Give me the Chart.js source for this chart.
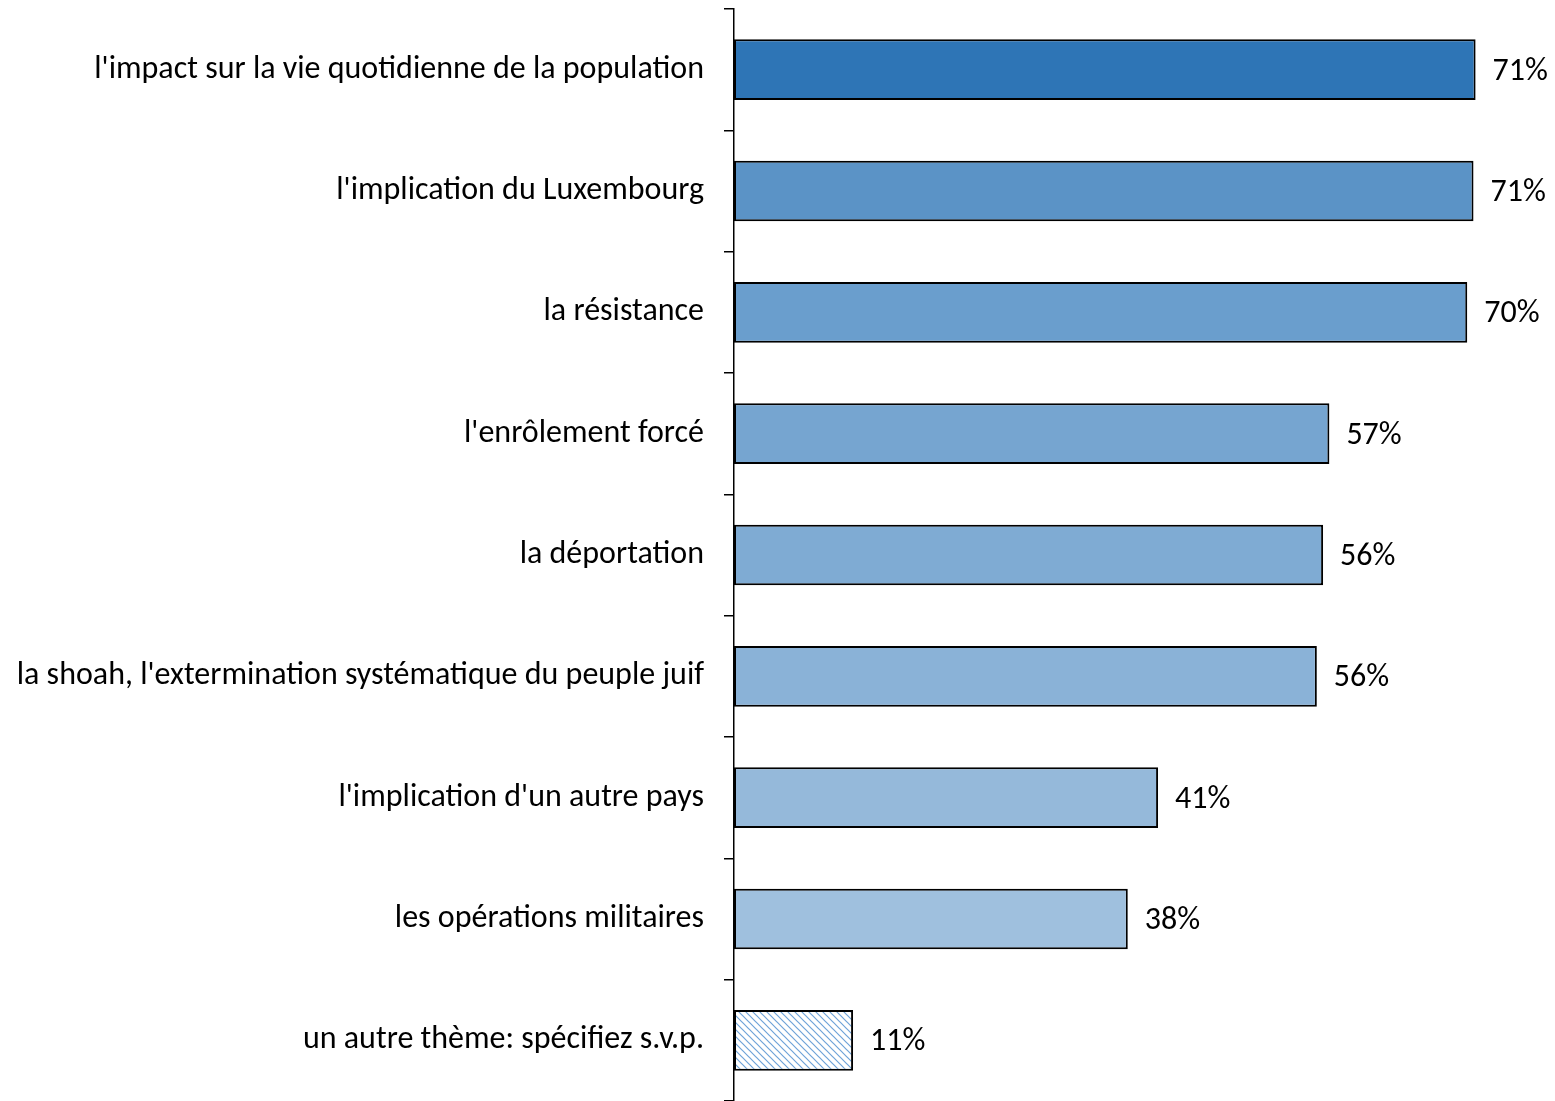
<!DOCTYPE html>
<html>
<head>
<meta charset="utf-8">
<script src="https://cdn.jsdelivr.net/npm/chart.js@4"></script>
<style>
  html, body { margin: 0; padding: 0; background: #fff; }
  #wrap { width: 1555px; height: 1101px; position: relative; }
</style>
</head>
<body>
<div id="wrap"><canvas id="chart"></canvas></div>
<script>
// données
const themes = [
    "l'impact sur la vie quotidienne de la population",
    "l'implication du Luxembourg",
    "la résistance",
    "l'enrôlement forcé",
    "la déportation",
    "la shoah, l'extermination systématique du peuple juif",
    "l'implication d'un autre pays",
    "les opérations militaires",
    "un autre thème: spécifiez s.v.p."
];
const pourcentages = [71.0, 70.8, 70.2, 57.0, 56.4, 55.8, 40.6, 37.7, 11.4];
const couleurs = ['#2E75B6', '#5B93C6', '#6A9ECD', '#76A5D0', '#7FABD3', '#8AB2D7', '#95B9DA', '#9FC0DE', null];

const police = "Carlito, Lato, 'Liberation Sans', sans-serif";

// motif hachuré pour "autre thème"
const hachure = (() => {
    const c = document.createElement('canvas');
    c.width = 7; c.height = 7;
    const g = c.getContext('2d');
    g.fillStyle = '#fff';
    g.fillRect(0, 0, 7, 7);
    g.strokeStyle = '#6FA3D8';
    g.lineWidth = 1.2;
    g.beginPath();
    g.moveTo(-1, -1); g.lineTo(8, 8);
    g.moveTo(-1, 6); g.lineTo(1, 8);
    g.moveTo(6, -1); g.lineTo(8, 1);
    g.stroke();
    return g.createPattern(c, 'repeat');
})();

// étiquettes de valeur au bout des barres
const etiquettes = {
    id: 'etiquettes',
    afterDatasetsDraw(chart) {
        const ctx = chart.ctx;
        const meta = chart.getDatasetMeta(0);
        ctx.save();
        ctx.font = '32px ' + police;
        ctx.fillStyle = '#000';
        ctx.textAlign = 'left';
        ctx.textBaseline = 'middle';
        meta.data.forEach((bar, i) => {
            ctx.fillText(Math.round(pourcentages[i]) + '%', bar.x + 17, bar.y + 2);
        });
        ctx.restore();
    }
};

new Chart(document.getElementById('chart'), {
    type: 'bar',
    data: {
        labels: themes,
        datasets: [{
            data: pourcentages,
            backgroundColor: couleurs.map(c => c || hachure),
            borderColor: '#000',
            borderWidth: 2,
            borderSkipped: false,
            barPercentage: 0.5,
            categoryPercentage: 1
        }]
    },
    options: {
        indexAxis: 'y',
        responsive: true,
        maintainAspectRatio: false,
        animation: false,
        layout: { padding: { top: 9, right: 0, bottom: 0, left: 0 } },
        plugins: { legend: { display: false }, tooltip: { enabled: false } },
        scales: {
            x: { display: false, min: 0, max: 78.6 },
            y: {
                afterFit: (s) => { s.width = 734; s.paddingTop = 0; s.paddingBottom = 0; },
                border: { display: true, color: '#000', width: 1.5 },
                grid: { drawOnChartArea: false, drawTicks: true, tickLength: 10, color: '#000', lineWidth: 1.5, offset: true },
                ticks: { color: '#000', padding: 20, font: { family: police, size: 32 } }
            }
        }
    },
    plugins: [etiquettes]
});
</script>
</body>
</html>
